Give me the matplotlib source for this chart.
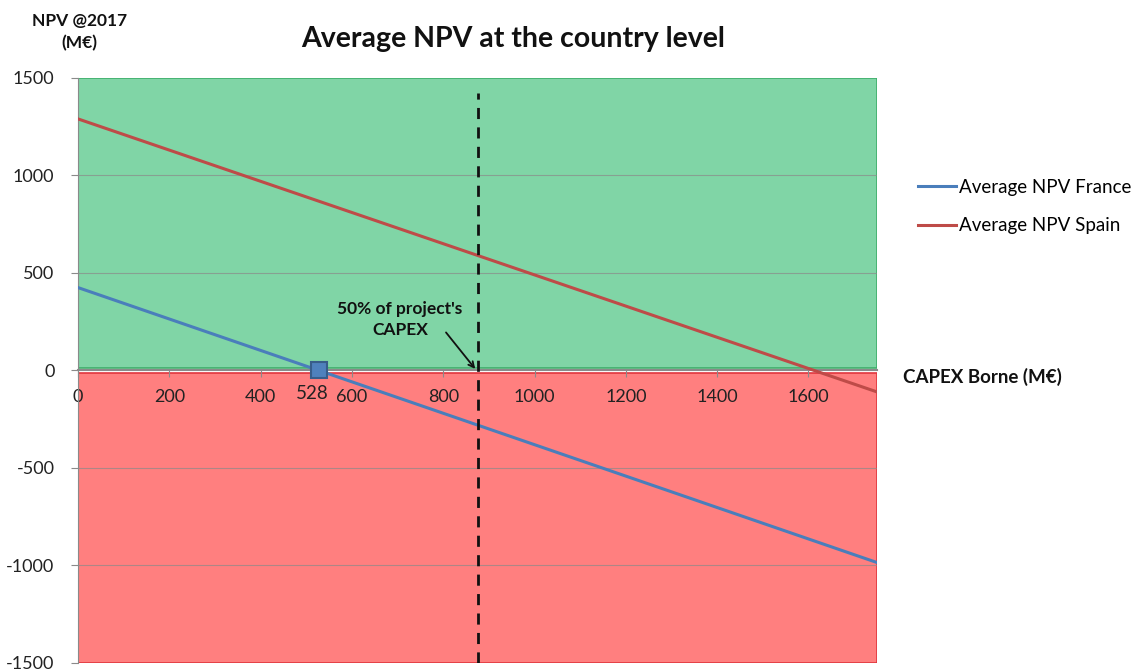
import matplotlib.pyplot as plt
import numpy as np

# data
capex = [0, 1750]
npv_france = [425, -985]
npv_spain = [1290, -110]
breakeven_x = 528
half_capex = 875
xticks = [0, 200, 400, 600, 800, 1000, 1200, 1400, 1600]
yticks = [-1500, -1000, -500, 0, 500, 1000, 1500]

plt.rcParams['font.family'] = ['Lato', 'DejaVu Sans']
plt.rcParams['axes.unicode_minus'] = False

fig = plt.figure(figsize=(11.31, 6.71), dpi=100)
ax = fig.add_axes([0.069, 0.012, 0.7064, 0.8718])

# shaded zones
ax.axhspan(14, 1500, facecolor='#80d5a6', edgecolor='#3fae6a', lw=1.2, zorder=0)
ax.axhspan(-1500, -12, facecolor='#ff7f7f', edgecolor='#e0363e', lw=1.2, zorder=0)

for y in yticks:
    if y not in (0, -1500, 1500):
        ax.axhline(y, color='#8a8a8a', lw=0.8, alpha=0.7, zorder=1)

ax.plot(capex, npv_france, color='#4a7ebb', lw=2.2, label='Average NPV France', zorder=3)
ax.plot(capex, npv_spain, color='#be4b48', lw=2.2, label='Average NPV Spain', zorder=3)

ax.plot([breakeven_x], [0], marker='s', ms=11, mfc='#4f81bd', mec='#385d8a', mew=1.5, zorder=4)
ax.text(breakeven_x - 15, -75, '528', ha='center', va='top', fontsize=13.5, color='#222222')

ax.axvline(half_capex, ymax=0.975, color='#111111', lw=2, ls=(0, (4, 3)), zorder=3)
ax.text(705, 260, "50% of project's\nCAPEX", ha='center', va='center', fontsize=12.5,
        fontweight='bold', color='#111111', linespacing=1.4)
ax.annotate('', xy=(870, 8), xytext=(806, 195),
            arrowprops=dict(arrowstyle='->', color='#111111', lw=1.3, shrinkA=0, shrinkB=0))

ax.set_xlim(0, 1750)
ax.set_ylim(-1500, 1500)
ax.set_xticks(xticks)
ax.set_yticks(yticks)
ax.tick_params(axis='both', labelsize=13, colors='#222222', length=5, color='#8a8a8a')
ax.tick_params(axis='x', pad=8, direction='out')
ax.tick_params(axis='y', pad=12)

ax.spines['bottom'].set_position(('data', 0))
ax.spines['bottom'].set_color('#8a8a8a')
ax.spines['bottom'].set_linewidth(1.5)
ax.spines['left'].set_color('#8a8a8a')
ax.spines['top'].set_visible(False)
ax.spines['right'].set_visible(False)
ax.spines['bottom'].set_zorder(2)

fig.text(0.454, 0.942, 'Average NPV at the country level', ha='center', va='center',
         fontsize=20.5, fontweight='bold', color='#111111')
fig.text(0.07, 0.952, 'NPV @2017\n(M€)', ha='center', va='center',
         fontsize=12.5, fontweight='bold', color='#111111', linespacing=1.45)
fig.text(0.798, 0.438, 'CAPEX Borne (M€)', ha='left', va='center',
         fontsize=13.5, fontweight='bold', color='#111111')

fig.legend(loc='upper left', bbox_to_anchor=(0.797, 0.759), frameon=False,
           fontsize=13.5, handlelength=2.0, handletextpad=0.15, labelspacing=1.15)

fig.savefig('out.png', dpi=100)
